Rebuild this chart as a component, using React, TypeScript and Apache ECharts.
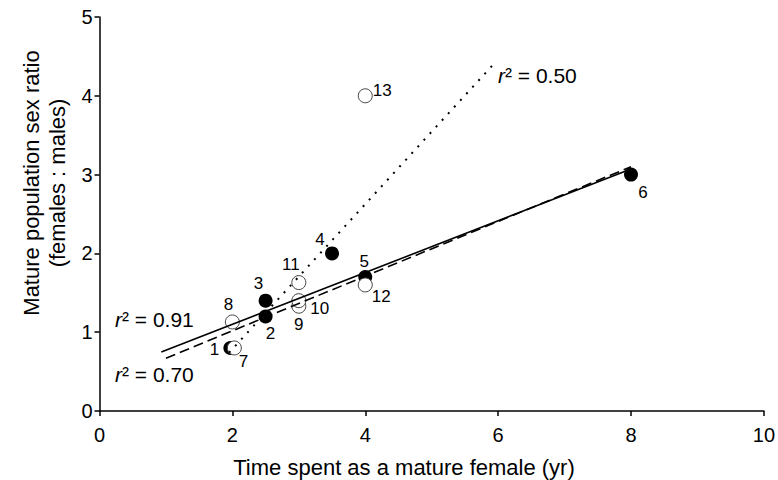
import React, { useEffect, useRef } from "react";
import * as echarts from "echarts";

// Filled circles (points 1-6)
const filledIds = ["1", "2", "3", "4", "5", "6"];
const filledX = [1.97, 2.5, 2.5, 3.5, 4.0, 8.0];
const filledY = [0.8, 1.2, 1.4, 2.0, 1.7, 3.0];

// Open circles (points 7-13)
const openIds = ["7", "8", "9", "10", "11", "12", "13"];
const openX = [2.03, 2.0, 3.0, 3.0, 3.0, 4.0, 4.0];
const openY = [0.8, 1.13, 1.33, 1.4, 1.63, 1.6, 4.0];

// Fit lines (end points)
const solidLineX = [0.93, 8.0];
const solidLineY = [0.75, 3.07];
const dashedLineX = [1.0, 8.0];
const dashedLineY = [0.67, 3.1];
const dottedLineX = [1.95, 5.93];
const dottedLineY = [0.74, 4.4];

const r2Labels = ["0.91", "0.70", "0.50"];

const xTitle = "Time spent as a mature female (yr)";
const yTitle = "Mature population sex ratio\n(females : males)";

// Label offsets (pixels) for each point's number
const filledOffsets = [[-16, 2], [5, 17], [-7, -17], [-12, -14], [-1, -16], [12, 18]];
const openOffsets = [[9, 14], [-4, -17], [0, 18], [21, 8], [-8, -18], [16, 12], [17, -5]];

const FONT = "Liberation Sans, Arial, Helvetica, sans-serif";

export default function App() {
  const ref = useRef<HTMLDivElement>(null);
  useEffect(() => {
    if (!ref.current) return;
    const chart = echarts.init(ref.current, null, { renderer: "svg" });
    const pointLabel = {
      show: true,
      position: "inside",
      color: "#000",
      fontSize: 17,
      fontFamily: FONT,
    };
    const mkLine = (xs: number[], ys: number[]) => xs.map((x, i) => [x, ys[i]]);
    const r2Text = (v: string, x: number, y: number) => ({
      type: "text",
      left: x,
      top: y,
      z: 100,
      style: {
        text: "{i|r}{s|²} = " + v,
        rich: {
          i: { fontStyle: "italic", fontSize: 21, fontFamily: FONT, fill: "#000" },
          s: { fontSize: 21, fontFamily: FONT, fill: "#000" },
        },
        fontSize: 21,
        fontFamily: FONT,
        fill: "#000",
      },
    });
    chart.setOption({
      animation: false,
      backgroundColor: "#fff",
      grid: { left: 99.5, right: 10, top: 17, bottom: 69, containLabel: false },
      xAxis: {
        type: "value",
        min: 0,
        max: 10,
        interval: 2,
        axisLine: { lineStyle: { color: "#000", width: 1.5 } },
        axisTick: { inside: false, length: 5, lineStyle: { color: "#000", width: 1.5 } },
        axisLabel: { fontSize: 20, fontFamily: FONT, color: "#000", margin: 14 },
        splitLine: { show: false },
      },
      yAxis: {
        type: "value",
        min: 0,
        max: 5,
        interval: 1,
        axisLine: { lineStyle: { color: "#000", width: 1.5 } },
        axisTick: { inside: false, length: 5, lineStyle: { color: "#000", width: 1.5 } },
        axisLabel: { fontSize: 20, fontFamily: FONT, color: "#000", margin: 7 },
        splitLine: { show: false },
      },
      series: [
        {
          type: "scatter",
          symbol: "circle",
          symbolSize: 14,
          z: 2,
          itemStyle: { color: "#000", opacity: 1 },
          data: filledX.map((x, i) => ({
            value: [x, filledY[i]],
            label: { ...pointLabel, formatter: filledIds[i], offset: filledOffsets[i] },
          })),
        },
        {
          type: "scatter",
          symbol: "circle",
          symbolSize: 14,
          z: 3,
          itemStyle: { color: "#fff", borderColor: "#444", borderWidth: 1, opacity: 1 },
          data: openX.map((x, i) => ({
            value: [x, openY[i]],
            label: { ...pointLabel, formatter: openIds[i], offset: openOffsets[i] },
          })),
        },
        {
          type: "line",
          z: 4,
          symbol: "none",
          lineStyle: { color: "#000", width: 1.6, type: "solid" },
          data: mkLine(solidLineX, solidLineY),
        },
        {
          type: "line",
          z: 4,
          symbol: "none",
          lineStyle: { color: "#000", width: 1.6, type: [10, 5] },
          data: mkLine(dashedLineX, dashedLineY),
        },
        {
          type: "line",
          z: 4,
          symbol: "none",
          lineStyle: { color: "#000", width: 2, type: [2, 7] },
          data: mkLine(dottedLineX, dottedLineY),
        },
      ],
      graphic: [
        r2Text(r2Labels[0], 115, 309),
        r2Text(r2Labels[1], 115, 364),
        r2Text(r2Labels[2], 498, 65),
        {
          type: "text",
          x: 404,
          y: 467,
          style: {
            text: xTitle,
            fontSize: 22,
            fontFamily: FONT,
            fill: "#000",
            textAlign: "center",
            textVerticalAlign: "middle",
          },
        },
        {
          type: "text",
          x: 44,
          y: 183,
          rotation: Math.PI / 2,
          style: {
            text: yTitle,
            fontSize: 22,
            lineHeight: 26,
            fontFamily: FONT,
            fill: "#000",
            textAlign: "center",
            textVerticalAlign: "middle",
          },
        },
      ],
    });
    return () => chart.dispose();
  }, []);
  return (
    <div
      ref={ref}
      style={{ position: "fixed", left: 0, top: 0, width: 778, height: 480, background: "#fff" }}
    />
  );
}
